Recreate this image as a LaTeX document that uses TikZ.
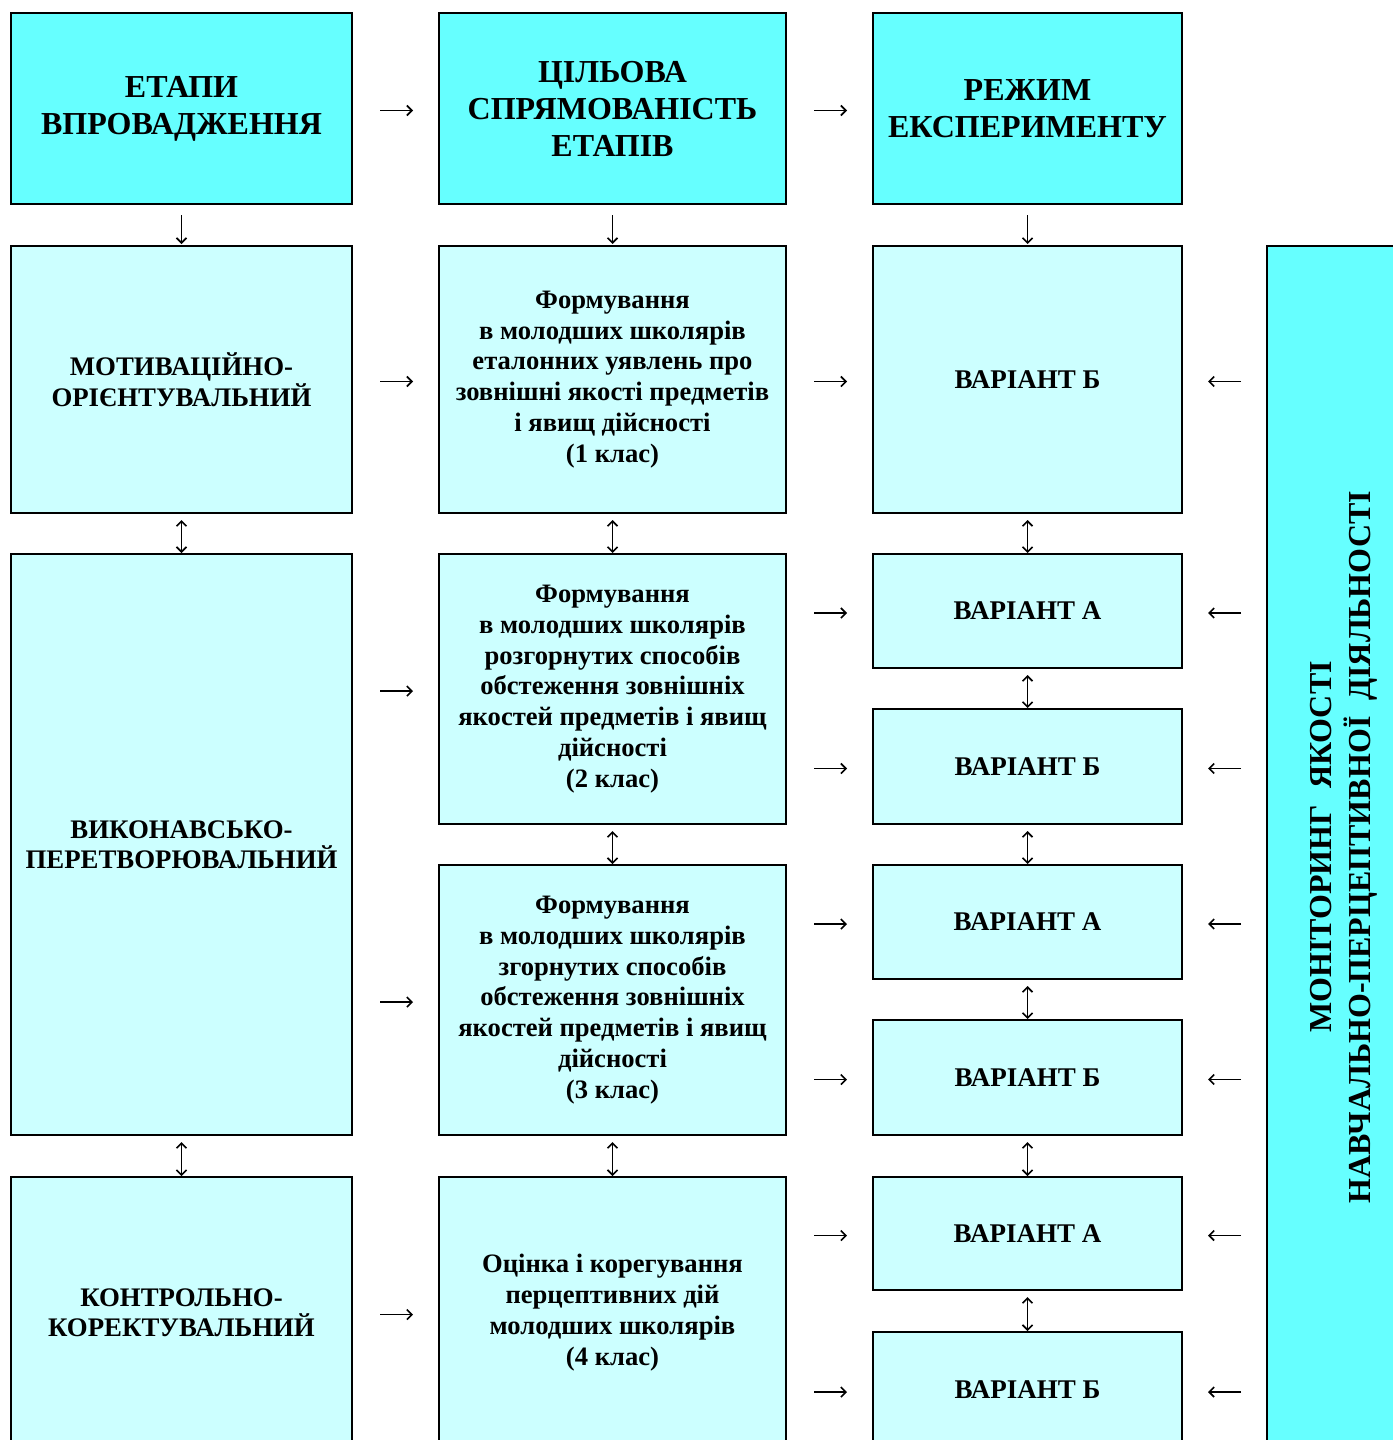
\documentclass[tikz,border=0pt]{standalone}
\usepackage{fontspec}
\setmainfont{Liberation Serif}
\usetikzlibrary{arrows.meta}
\definecolor{hdr}{HTML}{66FFFF}
\definecolor{lite}{HTML}{CCFFFF}
\tikzset{
  box/.style={draw=black, line width=2pt, inner sep=0pt, outer sep=0pt, align=center, font=\bfseries},
  hbox/.style={box, fill=hdr, font=\bfseries\fontsize{32}{37}\selectfont},
  lbox/.style={box, fill=lite},
  c1font/.style={font=\bfseries\fontsize{26.8}{30.5}\selectfont},
  c2font/.style={font=\bfseries\fontsize{26.6}{30.8}\selectfont},
  c3font/.style={font=\bfseries\fontsize{27}{31}\selectfont},
  arr/.style={line width=1.6pt, -{Straight Barb[length=5pt,width=10pt,line width=1.6pt]}},
  dblarr/.style={line width=1.6pt, {Straight Barb[length=5pt,width=10pt,line width=1.6pt]}-{Straight Barb[length=5pt,width=10pt,line width=1.6pt]}},
  harr/.style={arr, shorten <=28pt, shorten >=26pt, transform canvas={yshift=-2pt}},
  larr/.style={arr, shorten <=26pt, shorten >=26pt, transform canvas={yshift=-2pt}},
  varr/.style={arr, shorten <=11pt, shorten >=2pt},
  vdarr/.style={dblarr, shorten <=7pt, shorten >=1pt},
}
\begin{document}
\begin{tikzpicture}[x=1pt,y=-1pt]
\useasboundingbox[fill=white] (0,0) rectangle (1392,1440);
% header row
\node[hbox, minimum width=341, minimum height=191] (H1) at (181.5,108.5) {ЕТАПИ\\ВПРОВАДЖЕННЯ};
\node[hbox, minimum width=347, minimum height=191] (H2) at (612.5,108.5) {ЦІЛЬОВА\\СПРЯМОВАНІСТЬ\\ЕТАПІВ};
\node[hbox, minimum width=309, minimum height=191] (H3) at (1027.5,108.5) {РЕЖИМ\\ЕКСПЕРИМЕНТУ};
% column 1
\node[lbox, c1font, minimum width=341, minimum height=267] (C1a) at (181.5,379.5) {МОТИВАЦІЙНО-\\ОРІЄНТУВАЛЬНИЙ};
\node[lbox, c1font, minimum width=341, minimum height=581] (C1b) at (181.5,844.5) {ВИКОНАВСЬКО-\\ПЕРЕТВОРЮВАЛЬНИЙ};
\node[lbox, c1font, minimum width=341, minimum height=271] (C1c) at (181.5,1312.5) {КОНТРОЛЬНО-\\КОРЕКТУВАЛЬНИЙ};
% column 2
\node[lbox, c2font, minimum width=347, minimum height=267] (C2a) at (612.5,379.5) {Формування\\в молодших школярів\\еталонних уявлень про\\зовнішні якості предметів\\і явищ дійсності\\(1 клас)};
\node[lbox, c2font, minimum width=347, minimum height=270] (C2b) at (612.5,689) {Формування\\в молодших школярів\\розгорнутих способів\\обстеження зовнішніх\\якостей предметів і явищ\\дійсності\\(2 клас)};
\node[lbox, c2font, minimum width=347, minimum height=270] (C2c) at (612.5,1000) {Формування\\в молодших школярів\\згорнутих способів\\обстеження зовнішніх\\якостей предметів і явищ\\дійсності\\(3 клас)};
\node[lbox, c2font, minimum width=347, minimum height=271] (C2d) at (612.5,1312.5) {Оцінка і корегування\\перцептивних дій\\молодших школярів\\(4 клас)};
% column 3
\node[lbox, c3font, minimum width=309, minimum height=267] (C3a) at (1027.5,379.5) {ВАРІАНТ Б};
\node[lbox, c3font, minimum width=309, minimum height=114] (C3b) at (1027.5,611) {ВАРІАНТ А};
\node[lbox, c3font, minimum width=309, minimum height=115] (C3c) at (1027.5,766.5) {ВАРІАНТ Б};
\node[lbox, c3font, minimum width=309, minimum height=114] (C3d) at (1027.5,922) {ВАРІАНТ А};
\node[lbox, c3font, minimum width=309, minimum height=115] (C3e) at (1027.5,1077.5) {ВАРІАНТ Б};
\node[lbox, c3font, minimum width=309, minimum height=113] (C3f) at (1027.5,1233.5) {ВАРІАНТ А};
\node[lbox, c3font, minimum width=309, minimum height=116] (C3g) at (1027.5,1390) {ВАРІАНТ Б};
% right column
\node[box, fill=hdr, minimum width=150, minimum height=1202] (R) at (1342,847) {};
\node[rotate=90, align=center, font=\bfseries\fontsize{32}{39}\selectfont] (Rt) at ([xshift=1.5pt]R.center) {МОНІТОРИНГ\ \ ЯКОСТІ\\НАВЧАЛЬНО-ПЕРЦЕПТИВНОЇ\ \ ДІЯЛЬНОСТІ};
% header arrows
\draw[harr] (H1.east) -- (H2.west);
\draw[harr] (H2.east) -- (H3.west);
\draw[varr] (H1.south) -- (C1a.north);
\draw[varr] (H2.south) -- (C2a.north);
\draw[varr] (H3.south) -- (C3a.north);
% row arrows col1 -> col2
\draw[harr] (C1a.east) -- (C2a.west);
\draw[harr] (C1b.east |- C2b.west) -- (C2b.west);
\draw[harr] (C1b.east |- C2c.west) -- (C2c.west);
\draw[harr] (C1c.east) -- (C2d.west);
% col2 -> col3
\draw[harr] (C2a.east) -- (C3a.west);
\draw[harr] (C2b.east |- C3b.west) -- (C3b.west);
\draw[harr] (C2b.east |- C3c.west) -- (C3c.west);
\draw[harr] (C2c.east |- C3d.west) -- (C3d.west);
\draw[harr] (C2c.east |- C3e.west) -- (C3e.west);
\draw[harr] (C2d.east |- C3f.west) -- (C3f.west);
\draw[harr] (C2d.east |- C3g.west) -- (C3g.west);
% right box -> col3
\foreach \n in {C3a,C3b,C3c,C3d,C3e,C3f,C3g}
  \draw[larr] (R.west |- \n.east) -- (\n.east);
% vertical double arrows
\draw[vdarr] (C1a.south) -- (C1b.north);
\draw[vdarr] (C1b.south) -- (C1c.north);
\draw[vdarr] (C2a.south) -- (C2b.north);
\draw[vdarr] (C2b.south) -- (C2c.north);
\draw[vdarr] (C2c.south) -- (C2d.north);
\draw[vdarr] (C3a.south) -- (C3b.north);
\draw[vdarr] (C3b.south) -- (C3c.north);
\draw[vdarr] (C3c.south) -- (C3d.north);
\draw[vdarr] (C3d.south) -- (C3e.north);
\draw[vdarr] (C3e.south) -- (C3f.north);
\draw[vdarr] (C3f.south) -- (C3g.north);
\end{tikzpicture}
\end{document}
